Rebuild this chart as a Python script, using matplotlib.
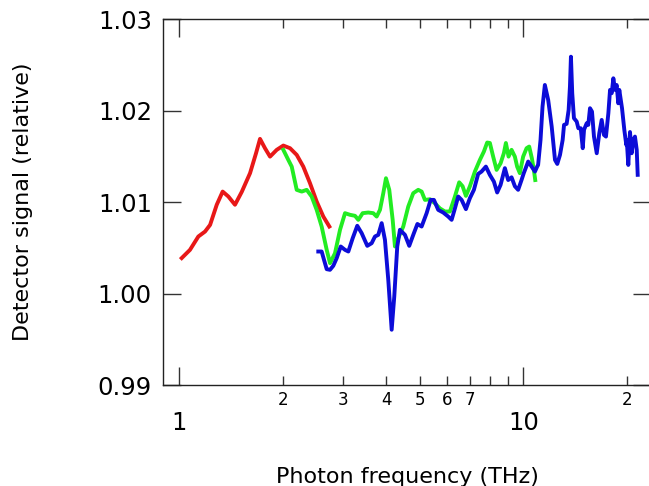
import matplotlib
matplotlib.use('Agg')
import matplotlib.pyplot as plt
from matplotlib.ticker import FixedLocator, FixedFormatter

# red curve (low frequency)
red_f = [1.018, 1.076, 1.138, 1.190, 1.231, 1.287, 1.339, 1.391, 1.454, 1.521,
         1.608, 1.674, 1.719, 1.777, 1.838, 1.922, 2.009, 2.101, 2.197, 2.296,
         2.401, 2.511, 2.625, 2.733]
red_y = [1.00387, 1.00477, 1.00623, 1.00677, 1.0075, 1.0097, 1.01114, 1.0106, 1.0097, 1.0111,
         1.01315, 1.01534, 1.0169, 1.01588, 1.01496, 1.0157, 1.01617, 1.01588, 1.01515, 1.01387,
         1.01206, 1.01005, 1.00841, 1.00732]

# green curve (mid frequency)
green_f = [2.009, 2.077, 2.125, 2.197, 2.272, 2.349, 2.428, 2.511, 2.596, 2.685,
           2.745, 2.838, 2.935, 3.035, 3.138, 3.245, 3.317, 3.415, 3.545, 3.666,
           3.750, 3.834, 3.920, 3.991, 4.080, 4.174, 4.238, 4.333, 4.480, 4.632,
           4.789, 4.952, 5.066, 5.179, 5.355, 5.537, 5.725, 5.920, 6.121, 6.329,
           6.513, 6.663, 6.812, 6.996, 7.234, 7.479, 7.682, 7.853, 7.996, 8.174,
           8.363, 8.589, 8.781, 8.900, 9.060, 9.244, 9.451, 9.595, 9.77, 9.988,
           10.22, 10.40, 10.59, 10.73, 10.83]
green_y = [1.0157, 1.0146, 1.01387, 1.01133, 1.01114, 1.01133, 1.0106, 1.00914, 1.00732, 1.00477,
           1.00332, 1.0044, 1.00696, 1.00878, 1.0086, 1.00849, 1.00805, 1.00878, 1.00885, 1.00878,
           1.00841, 1.00914, 1.01096, 1.0126, 1.01133, 1.00805, 1.00514, 1.00605, 1.00732, 1.0095,
           1.01096, 1.01133, 1.01114, 1.01023, 1.0103, 1.00986, 1.0093, 1.00896, 1.00896, 1.0106,
           1.01215, 1.01172, 1.01067, 1.01172, 1.01333, 1.0146, 1.01551, 1.0165, 1.01645, 1.01496,
           1.01351, 1.01423, 1.01534, 1.01645, 1.01496, 1.0157, 1.01496, 1.01387, 1.01315, 1.01496,
           1.01588, 1.01606, 1.01477, 1.01351, 1.0124]

# blue curve (high frequency)
blue_f = [2.538, 2.596, 2.637, 2.685, 2.745, 2.806, 2.871, 2.949, 3.035, 3.103,
          3.195, 3.294, 3.392, 3.522, 3.627, 3.708, 3.791, 3.878, 3.964, 4.053,
          4.146, 4.219, 4.304, 4.382, 4.531, 4.663, 4.80, 4.925, 5.066, 5.238,
          5.380, 5.500, 5.660, 5.853, 6.052, 6.191, 6.329, 6.470, 6.619, 6.812,
          6.996, 7.186, 7.394, 7.564, 7.786, 7.996, 8.213, 8.396, 8.589, 8.840,
          9.037, 9.244, 9.451, 9.660, 9.881, 10.03, 10.33, 10.57, 10.81, 10.97,
          11.04, 11.22, 11.37, 11.55, 11.81, 12.09, 12.36, 12.55, 12.78, 13.01,
          13.13, 13.36, 13.54, 13.66, 13.75, 13.87, 14.03, 14.29, 14.45, 14.68,
          14.88, 15.01, 15.28, 15.44, 15.62, 15.83, 16.04, 16.34, 16.62, 16.89,
          17.15, 17.38, 17.66, 17.86, 18.06, 18.26, 18.47, 18.67, 18.87, 19.00,
          19.35, 19.65, 19.91, 19.97, 20.18, 20.41, 20.64, 20.87, 21.10, 21.35,
          21.49]
blue_y = [1.00459, 1.00459, 1.00368, 1.00266, 1.00259, 1.00303, 1.00387, 1.00514, 1.00477, 1.00459,
          1.00605, 1.0074, 1.0066, 1.00521, 1.0055, 1.00623, 1.00641, 1.00769, 1.00586, 1.0015,
          0.99604, 0.99968, 1.00514, 1.00696, 1.00641, 1.00521, 1.0065, 1.0076, 1.00732, 1.00878,
          1.01023, 1.01023, 1.00914, 1.00885, 1.00841, 1.00805, 1.0093, 1.0106, 1.01023, 1.00922,
          1.01042, 1.01133, 1.01307, 1.01333, 1.01387, 1.01296, 1.01223, 1.01104, 1.01187, 1.0137,
          1.0124, 1.0127, 1.01172, 1.01133, 1.0124, 1.01315, 1.01442, 1.01387, 1.01333, 1.01387,
          1.01405, 1.01679, 1.02042, 1.02279, 1.02115, 1.01824, 1.0146, 1.01416, 1.01515, 1.01679,
          1.01843, 1.01854, 1.02006, 1.02261, 1.02588, 1.02189, 1.01916, 1.01879, 1.01806, 1.01806,
          1.01588, 1.0179, 1.01861, 1.01843, 1.02025, 1.01988, 1.01715, 1.01533, 1.01751, 1.01897,
          1.01733, 1.01715, 1.0197, 1.02225, 1.02189, 1.02352, 1.02225, 1.02279, 1.02079, 1.02225,
          1.02025, 1.01788, 1.01624, 1.01679, 1.01405, 1.01765, 1.01533, 1.01679, 1.01715, 1.0157,
          1.01297]

y_ticks = [0.99, 1.00, 1.01, 1.02, 1.03]
y_ticklabels = ['0.99', '1.00', '1.01', '1.02', '1.03']
x_major = [1, 10]
x_major_labels = ['1', '10']
x_minor = [2, 3, 4, 5, 6, 7, 8, 9, 20]
x_minor_labels = ['2', '3', '4', '5', '6', '7', '', '', '2']

plt.rcParams['font.family'] = 'DejaVu Sans'

fig = plt.figure(figsize=(6.49, 4.86), dpi=100)
ax = fig.add_axes([0.2512, 0.2078, 0.7519, 0.7531])

ax.plot(red_f, red_y, color='#e81818', lw=2.8)
ax.plot(green_f, green_y, color='#22ec22', lw=2.8)
ax.plot(blue_f, blue_y, color='#0c0cd8', lw=2.8)

ax.set_xscale('log')
ax.set_xlim(0.8986, 23.49)
ax.set_ylim(0.99, 1.03)

ax.xaxis.set_major_locator(FixedLocator(x_major))
ax.xaxis.set_major_formatter(FixedFormatter(x_major_labels))
ax.xaxis.set_minor_locator(FixedLocator(x_minor))
ax.xaxis.set_minor_formatter(FixedFormatter(x_minor_labels))
ax.set_yticks(y_ticks)
ax.set_yticklabels(y_ticklabels)

for s in ax.spines.values():
    s.set_linewidth(1.0)
    s.set_color('#222222')

ax.tick_params(axis='both', which='both', direction='in', top=True, right=True,
               color='#333333', width=1.0)
ax.tick_params(axis='x', which='major', length=13, labelsize=17.5, pad=19)
ax.tick_params(axis='x', which='minor', length=6.5, labelsize=12, pad=4)
ax.tick_params(axis='y', which='major', length=13, labelsize=17.5, pad=8)

fig.text(0.628, 0.019, 'Photon frequency (THz)', fontsize=16, ha='center', va='center')
fig.text(0.036, 0.584, 'Detector signal (relative)', fontsize=16, ha='center', va='center',
         rotation=90)

fig.savefig('out.png', dpi=100)
